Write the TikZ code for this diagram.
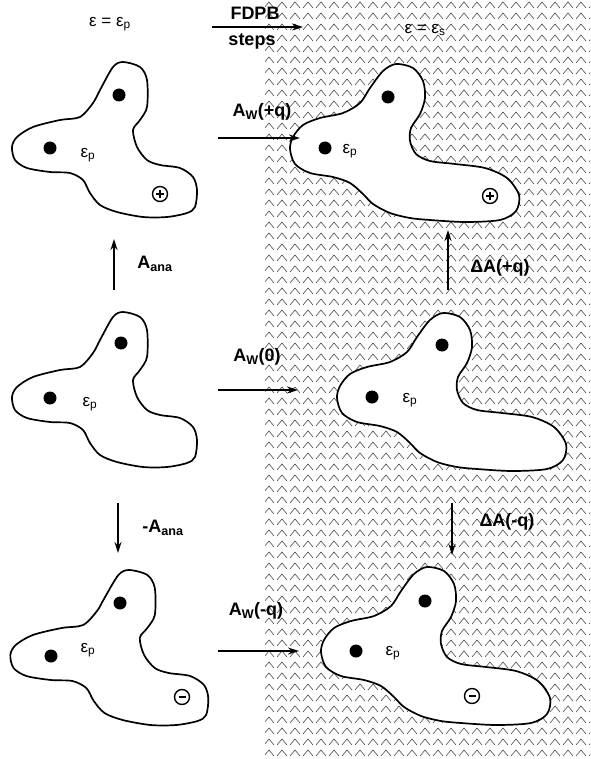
\documentclass[tikz,border=0pt]{standalone}
\usepackage{fontspec}
\setmainfont{Liberation Sans}
\usetikzlibrary{arrows.meta}

\begin{document}
\begin{tikzpicture}[
x=1pt,y=-1pt,
outline/.style={draw,line width=1.7pt,fill=white},
site/.style={circle,fill=black,inner sep=0pt,minimum size=13pt},
charge/.style={circle,draw,line width=1.4pt,inner sep=0pt,minimum size=15pt},
pluscharge/.style={charge,path picture={\draw[line width=1.6pt]
    ([xshift=-4pt]path picture bounding box.center) -- ++(8pt,0pt)
    ([yshift=-4pt]path picture bounding box.center) -- ++(0pt,8pt);}},
minuscharge/.style={charge,path picture={\draw[line width=1.6pt]
    ([xshift=-3.5pt]path picture bounding box.center) -- ++(7pt,0pt);}},
hatch/.style={black!70,line width=0.6pt},
flow/.style={-{Stealth[length=11pt,width=7pt]},line width=1.6pt},
eps/.style={font=\fontsize{17}{20}\selectfont},
lbl/.style={font=\bfseries\fontsize{18}{21}\selectfont}
]
\useasboundingbox (0,0) rectangle (590,759);

% solvent region
\begin{scope}
\clip (265,0) rectangle (590,759);
\foreach \r in {0,...,69}
  \draw[hatch] \foreach \c in {0,...,25} {(264+13*\c,8+11*\r) -- ++(5,-6) -- ++(5,6)};
\end{scope}

% molecules
\foreach \px/\py/\sx in {50/148/1, 50/398/1, 51/656/1.07}
  \draw[outline,shift={(\px,\py)},xscale=\sx] plot[smooth cycle] coordinates {
    (50,-58) (63,-81) (73,-86) (90,-81) (97,-68) (97,-41) (90,-28) (83,-18)
    (87,-1) (97,12) (110,17) (130,20) (143,29) (147,42) (145,59) (137,65)
    (117,69) (93,69) (67,64) (50,57) (40,45) (33,32) (20,25) (0,24)
    (-23,20) (-35,12) (-38,-1) (-33,-11) (-17,-21) (10,-28) (30,-31) (43,-45)};
\foreach \px/\py in {325/148, 372/397, 356/651}
  \draw[outline,shift={(\px,\py)}] plot[smooth cycle] coordinates {
    (71,-84) (88,-80) (98,-67) (100,-50) (95,-34) (86,-20) (85,-7) (91,6)
    (105,13) (130,16) (160,20) (182,30) (194,47) (191,63) (175,72) (140,74)
    (105,72) (85,70) (65,65) (48,56) (38,46) (25,35) (8,29) (-15,25)
    (-30,16) (-35,1) (-32,-11) (-22,-23) (-5,-30) (18,-35) (35,-45) (45,-60) (58,-77)};

\node[site] (tl-a) at (119,95) {};
\node[site] (tl-b) at (50,148) {};
\node[site] (ml-a) at (121,343) {};
\node[site] (ml-b) at (50,398) {};
\node[site] (bl-a) at (120,603) {};
\node[site] (bl-b) at (51,656) {};
\node[site] (tr-a) at (388,97) {};
\node[site] (tr-b) at (325,148) {};
\node[site] (mr-a) at (442,345) {};
\node[site] (mr-b) at (372,397) {};
\node[site] (br-a) at (425,601) {};
\node[site] (br-b) at (356,651) {};

\node[pluscharge] (tl-q) at (160,194) {};
\node[pluscharge] (tr-q) at (490,196) {};
\node[minuscharge] (bl-q) at (182,697) {};
\node[minuscharge] (br-q) at (472,696) {};

\node[eps] (tl-eps) at (88,155) {ε\textsubscript{p}};
\node[eps] (ml-eps) at (90,404) {ε\textsubscript{p}};
\node[eps] (bl-eps) at (88,650) {ε\textsubscript{p}};
\node[eps] (tr-eps) at (350,151) {ε\textsubscript{p}};
\node[eps] (mr-eps) at (410,400) {ε\textsubscript{p}};
\node[eps] (br-eps) at (393,653) {ε\textsubscript{p}};

% header
\node[eps] (vac) at (110,24) {ε = ε\textsubscript{p}};
\node[eps] (solv) at (425,30) {ε = ε\textsubscript{s}};
\node[lbl] (fdpb) at (255,13) {FDPB};
\node[lbl] (steps) at (252,41) {steps};
\coordinate (fdpb-s) at (212,27);
\coordinate (fdpb-e) at (303,27);
\draw[flow] (fdpb-s) -- (fdpb-e);

% transfer arrows
\coordinate (wp-s) at (218,138);
\coordinate (wp-e) at (300,138);
\coordinate (w0-s) at (218,390);
\coordinate (w0-e) at (298,390);
\coordinate (wm-s) at (218,651);
\coordinate (wm-e) at (299,651);
\draw[flow] (wp-s) -- (wp-e);
\draw[flow] (w0-s) -- (w0-e);
\draw[flow] (wm-s) -- (wm-e);
\node[lbl] (wp) at (262,112) {A\textsubscript{W}(+q)};
\node[lbl] (w0) at (257,357) {A\textsubscript{W}(0)};
\node[lbl] (wm) at (256,611) {A\textsubscript{W}(-q)};

% charging arrows
\coordinate (ap-s) at (114,290);
\coordinate (ap-e) at (114,239);
\coordinate (am-s) at (118,503);
\coordinate (am-e) at (118,553);
\coordinate (dp-s) at (448,290);
\coordinate (dp-e) at (448,230);
\coordinate (dm-s) at (452,503);
\coordinate (dm-e) at (452,555);
\draw[flow] (ap-s) -- (ap-e);
\draw[flow] (am-s) -- (am-e);
\draw[flow] (dp-s) -- (dp-e);
\draw[flow] (dm-s) -- (dm-e);
\node[lbl] (ap) at (155,264) {A\textsubscript{ana}};
\node[lbl] (am) at (163,528) {-A\textsubscript{ana}};
\node[lbl] (dp) at (500,268) {ΔA(+q)};
\node[lbl] (dm) at (507,522) {ΔA(-q)};
\end{tikzpicture}
\end{document}
